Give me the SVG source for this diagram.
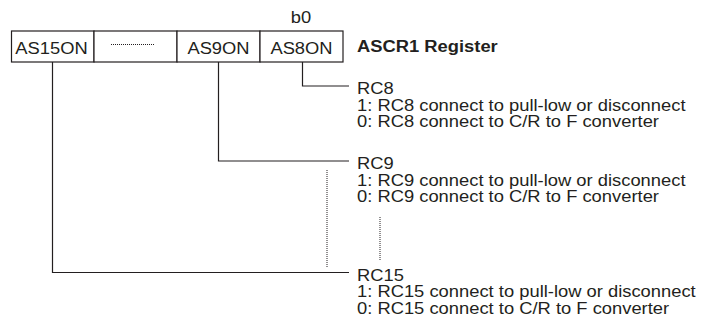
<svg xmlns="http://www.w3.org/2000/svg" width="702" height="326" viewBox="0 0 702 326">
<style>
text{font-family:"Liberation Sans",Arial,sans-serif;font-size:17px;fill:#231f20}
.b{font-weight:bold}
.m{text-anchor:middle}
.box{fill:#fff;stroke:#231f20;stroke-width:1.2}
.ln{fill:none;stroke:#231f20;stroke-width:1.2}
.dt{fill:none;stroke:#231f20;stroke-width:1;stroke-dasharray:1 1}
</style>
<rect width="702" height="326" fill="#fff"/>
<g id="register">
  <g id="bit15"><rect class="box" x="11.5" y="31" width="82.5" height="31"/><text class="m" transform="translate(51.5,54) scale(1.08,1)">AS15ON</text></g>
  <g id="bitdots"><rect class="box" x="94" y="31" width="83" height="31"/><line class="dt" x1="111" y1="44.5" x2="154" y2="44.5"/></g>
  <g id="bit9"><rect class="box" x="177" y="31" width="83" height="31"/><text class="m" transform="translate(218.5,54) scale(1.08,1)">AS9ON</text></g>
  <g id="bit8"><rect class="box" x="260" y="31" width="83" height="31"/><text class="m" transform="translate(301.5,54) scale(1.08,1)">AS8ON</text></g>
  <g id="b0label"><text class="m" transform="translate(301,23) scale(1.08,1)">b0</text></g>
  <g id="title"><text class="b" transform="translate(357,52) scale(1.08,1)">ASCR1 Register</text></g>
</g>
<g id="connectors">
  <polyline class="ln" points="302.5,62 302.5,86 349,86"/>
  <polyline class="ln" points="218.5,62 218.5,161 349,161"/>
  <polyline class="ln" points="52.5,62 52.5,272.5 349,272.5"/>
  <line class="dt" x1="327" y1="170" x2="327" y2="268"/>
  <line class="dt" x1="380" y1="217" x2="380" y2="260"/>
</g>
<g id="rc8" transform="translate(357,0) scale(1.08,1)">
  <text x="0" y="94.5">RC8</text>
  <text x="0" y="111">1: RC8 connect to pull-low or disconnect</text>
  <text x="0" y="127.5">0: RC8 connect to C/R to F converter</text>
</g>
<g id="rc9" transform="translate(357,0) scale(1.08,1)">
  <text x="0" y="169.5">RC9</text>
  <text x="0" y="186">1: RC9 connect to pull-low or disconnect</text>
  <text x="0" y="202.5">0: RC9 connect to C/R to F converter</text>
</g>
<g id="rc15" transform="translate(357,0) scale(1.08,1)">
  <text x="0" y="281">RC15</text>
  <text x="0" y="297.5">1: RC15 connect to pull-low or disconnect</text>
  <text x="0" y="314">0: RC15 connect to C/R to F converter</text>
</g>
</svg>
